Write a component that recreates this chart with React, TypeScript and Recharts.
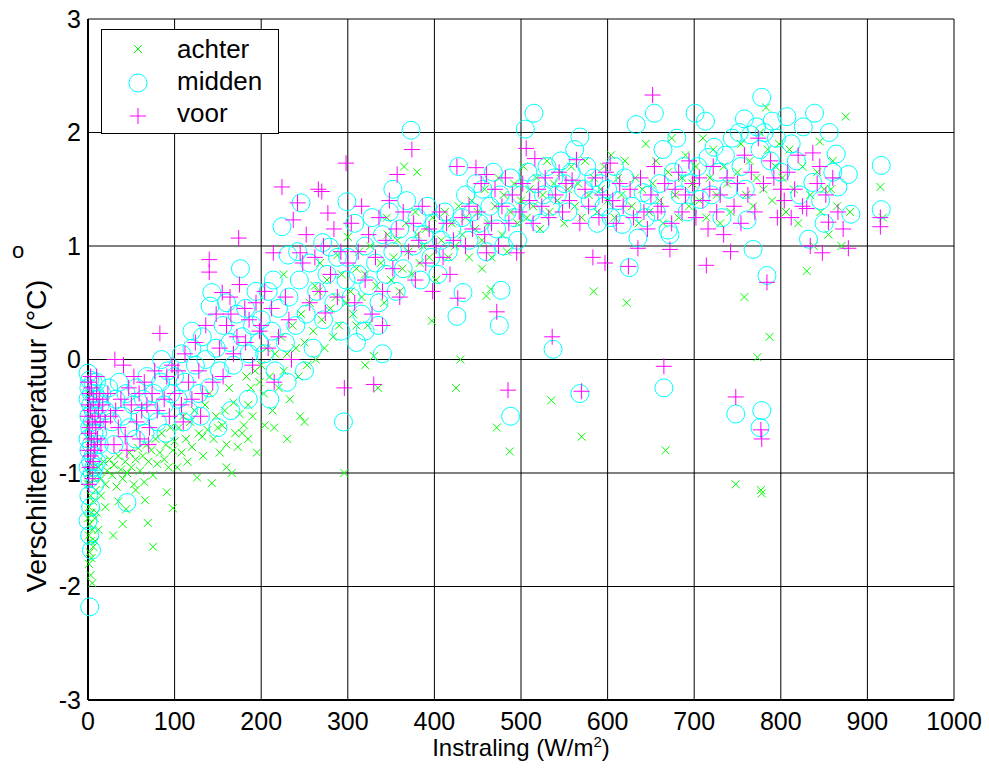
import {
  ScatterChart,
  Scatter,
  XAxis,
  YAxis,
  CartesianGrid,
  Legend,
  Label,
} from "recharts";

const xTicks = [0, 100, 200, 300, 400, 500, 600, 700, 800, 900, 1000];
const yTicks = [-3, -2, -1, 0, 1, 2, 3];

// [instraling, verschiltemperatuur]
const achter: [number, number][] = [
  [1, -1.0], [2, -1.1], [3, -1.2], [1, -1.3], [4, -1.35], [2, -1.45], [5, -1.5], [1, -1.55],
  [3, -1.6], [6, -1.65], [2, -1.7], [4, -1.75], [1, -1.8], [3, -1.9], [5, -1.97], [2, -0.8],
  [4, -0.9], [7, -1.05], [6, -1.25], [8, -1.4], [9, -1.15], [0, -0.6], [1, -0.7], [3, -0.5],
  [5, -0.4], [2, -0.3], [10, -1.35], [12, -1.5], [8, -1.6], [0, -1.1], [0, -1.4], [6, -0.95],
  [12, -0.95], [15, -1.05], [18, -0.9], [20, -1.1], [22, -0.98], [25, -0.88], [28, -1.02], [30, -0.93],
  [33, -1.12], [35, -0.85], [38, -0.97], [40, -1.05], [43, -0.9], [45, -1.0], [48, -0.82], [50, -0.95],
  [53, -1.1], [55, -0.88], [58, -0.78], [60, -0.98], [63, -0.85], [65, -1.08], [68, -0.75], [70, -0.9],
  [73, -0.8], [75, -1.02], [78, -0.7], [80, -0.92], [83, -0.82], [85, -0.65], [88, -0.88], [90, -0.75],
  [93, -0.95], [95, -0.6], [98, -0.8], [20, -1.3], [29, -1.55], [40, -1.45], [44, -1.32], [66, -1.24],
  [69, -1.44], [75, -1.65], [98, -1.31], [91, -1.17], [15, -1.2], [55, -1.15], [35, -1.25],
  [100, -0.72], [103, -0.95], [105, -0.6], [108, -0.82], [110, -0.5], [113, -0.7], [115, -0.9], [118, -0.55],
  [120, -0.77], [123, -0.45], [126, -1.04], [128, -0.65], [132, -0.68], [133, -0.85], [135, -0.4], [138, -0.62],
  [143, -1.09], [145, -0.7], [148, -0.5], [150, -0.6], [152, -0.82], [155, -0.58], [158, -0.45], [160, -0.75],
  [163, -0.25], [166, -1.0], [168, -0.38], [170, -0.65], [173, -0.77], [175, -0.48], [178, -0.65], [180, -0.58],
  [183, -0.15], [185, -0.4], [188, -0.25], [190, -0.5], [193, -0.1], [195, -0.82], [198, -0.2], [140, -0.3],
  [160, -0.95], [185, -0.7],
  [200, -0.05], [203, -0.3], [204, -0.58], [206, 0.1], [210, -0.15], [213, -0.45], [216, 0.05], [220, -0.25],
  [223, 0.2], [226, -0.1], [230, 0.05], [233, -0.35], [236, 0.3], [240, 0.1], [243, -0.15], [246, 0.4],
  [250, 0.15], [253, -0.05], [256, 0.5], [260, 0.25], [263, 0.0], [266, 0.6], [270, 0.35], [273, 0.1],
  [276, 0.7], [280, 0.45], [283, 0.2], [286, 0.55], [290, 0.3], [293, 0.75], [298, 0.5], [245, -0.5],
  [250, -0.55], [215, -0.6], [230, -0.7], [226, 0.75], [268, 0.85], [288, 0.92], [262, 0.65], [296, -1.0],
  [300, 1.08], [303, 0.6], [306, 0.4], [310, 0.8], [313, 0.95], [316, 0.55], [320, 0.75], [323, 0.3],
  [326, 1.0], [330, 0.03], [335, -0.25], [333, 0.65], [338, 0.85], [342, 0.5], [346, 1.1], [350, 0.7],
  [353, 0.9], [357, 1.05], [360, 0.6], [363, 0.8], [367, 1.2], [370, 0.95], [374, 0.75], [378, 1.3],
  [380, 1.1], [383, 0.85], [387, 1.0], [390, 1.15], [394, 0.9], [398, 1.25], [402, 0.7], [397, 0.34],
  [408, 1.05], [412, 1.3], [416, 0.9], [420, 1.2], [424, 1.0], [428, 1.35], [430, 0.0], [425, -0.25],
  [432, 1.1], [436, 1.25], [440, 0.9], [443, 1.4], [447, 1.15], [380, 1.65], [365, 1.7], [345, 1.25],
  [310, 0.3], [320, -0.05],
  [450, 1.3], [455, 1.05], [458, 1.5], [462, 1.2], [466, 0.9], [470, 1.35], [472, -0.6], [474, 1.6],
  [478, 1.1], [480, 1.45], [484, 0.95], [487, -0.81], [488, 1.3], [492, 1.55], [496, 1.2], [500, 1.4],
  [503, 1.7], [507, 1.25], [510, 1.5], [514, 1.35], [518, 1.6], [522, 1.15], [525, 1.45], [530, 1.75],
  [533, 1.3], [535, -0.36], [538, 1.55], [542, 1.4], [546, 1.65], [550, 1.2], [554, 1.5], [558, 1.7],
  [562, 1.35], [566, 1.55], [570, -0.68], [570, 1.25], [574, 1.75], [578, 1.45], [584, 0.6], [584, 1.6],
  [588, 1.3], [592, 1.5], [596, 1.7], [460, 0.56], [465, 0.62], [455, 0.8],
  [600, 1.4], [604, 1.8], [608, 1.25], [612, 1.6], [616, 1.45], [620, 1.75], [622, 0.5], [628, 1.35],
  [632, 1.6], [636, 1.2], [640, 1.5], [644, 1.9], [648, 1.3], [652, 1.55], [656, 1.75], [660, 1.4],
  [664, 1.2], [667, -0.8], [670, 1.65], [674, 1.95], [678, 1.45], [682, 1.25], [686, 1.6], [690, 1.8],
  [694, 1.35], [698, 1.55], [702, 1.7], [706, 1.4], [710, 1.95], [714, 1.25], [718, 1.6], [722, 1.85],
  [726, 1.45], [730, 1.2], [734, 1.7], [738, 1.55], [742, 1.3], [748, -1.1], [750, 1.65], [754, 1.9],
  [758, 0.55], [760, 1.45], [764, 1.75], [768, 1.35], [772, 1.6], [773, 0.02], [776, 2.0], [777, -1.15],
  [778, -1.18], [780, 1.5], [783, 2.22], [785, 1.85], [787, 0.2], [790, 1.4], [794, 1.7], [798, 1.9],
  [802, 1.6], [806, 1.3], [810, 1.85], [815, 1.5], [820, 1.2], [825, 1.7], [830, 0.78], [834, 1.45],
  [838, 1.0], [842, 1.65], [846, 1.3], [850, 1.5], [855, 1.1], [860, 1.75], [865, 1.35], [870, 1.0],
  [875, 2.14], [880, 1.3], [915, 1.52], [918, 1.25], [845, 1.92], [858, 1.5],
];

const midden: [number, number][] = [
  [0, -0.12], [2, -0.18], [1, -0.25], [4, -0.3], [0, -0.35], [3, -0.4], [6, -0.45], [1, -0.5],
  [5, -0.55], [2, -0.6], [7, -0.65], [0, -0.7], [4, -0.75], [1, -0.8], [6, -0.85], [3, -0.9],
  [0, -0.95], [5, -1.0], [2, -1.05], [8, -1.1], [1, -1.2], [3, -1.3], [0, -1.42], [2, -1.55],
  [4, -1.68], [2, -2.18], [10, -0.2], [12, -0.35], [9, -0.5], [11, -0.65], [14, -0.4], [8, -0.3],
  [10, -0.9], [13, -0.75], [6, -0.2], [7, -0.95], [45, -1.26],
  [16, -0.3], [20, -0.45], [24, -0.25], [28, -0.55], [32, -0.35], [36, -0.2], [40, -0.5], [44, -0.3],
  [48, -0.6], [52, -0.4], [56, -0.25], [60, -0.5], [64, -0.35], [68, -0.15], [72, -0.45], [76, -0.3],
  [80, -0.55], [84, -0.2], [88, -0.4], [92, -0.1], [96, -0.3], [55, -0.7], [66, -0.65], [30, -0.75],
  [90, -0.65], [85, 0.0],
  [100, -0.15], [104, -0.35], [108, 0.05], [112, -0.2], [116, -0.45], [120, 0.1], [124, -0.05], [128, -0.3],
  [132, 0.2], [136, 0.0], [140, -0.25], [141, 0.47], [143, 0.59], [148, 0.1], [152, -0.1], [156, 0.3],
  [160, 0.5], [164, 0.15], [168, -0.05], [172, 0.4], [176, 0.8], [178, 0.2], [182, 0.45], [186, 0.05],
  [190, 0.3], [194, 0.6], [198, 0.15], [110, -0.55], [130, -0.5], [150, -0.6], [165, -0.45], [185, -0.35],
  [120, 0.25],
  [200, 0.35], [204, 0.05], [208, 0.6], [212, 0.25], [214, 0.7], [216, -0.1], [220, 0.45], [224, 1.17],
  [228, 0.15], [231, 0.92], [232, 0.55], [240, 0.3], [242, 0.95], [244, 0.7], [246, 1.38], [252, 0.4],
  [256, 0.85], [260, 0.1], [264, 0.6], [271, 1.03], [272, 0.35], [276, 0.75], [279, 0.99], [284, 0.5],
  [288, 0.9], [292, 0.25], [295, -0.55], [299, 1.39], [298, 0.7], [230, -0.2], [210, -0.35], [250, -0.1],
  [300, 0.9], [304, 0.55], [308, 1.2], [312, 0.75], [316, 0.4], [320, 1.0], [324, 0.65], [328, 1.25],
  [332, 0.85], [336, 0.5], [340, 1.1], [344, 0.75], [348, 1.3], [352, 0.95], [356, 0.6], [360, 1.15],
  [364, 0.8], [368, 1.4], [373, 2.02], [376, 1.0], [380, 1.25], [384, 0.7], [388, 1.1], [392, 1.35],
  [396, 0.9], [400, 1.2], [404, 0.75], [408, 1.05], [412, 1.3], [416, 0.95], [420, 1.15], [426, 0.38],
  [433, 0.59], [428, 1.7], [432, 1.25], [436, 1.45], [440, 1.05], [444, 1.3], [448, 1.55], [352, 1.5],
  [310, 0.15], [335, 0.3], [340, 0.05], [320, 0.25],
  [452, 1.2], [456, 1.5], [460, 0.95], [464, 1.35], [477, 0.61], [475, 0.3], [468, 1.65], [472, 1.15],
  [476, 1.45], [480, 1.0], [484, 1.3], [488, -0.5], [488, 1.6], [492, 1.25], [496, 1.05], [500, 1.45],
  [505, 2.03], [508, 1.65], [512, 1.3], [515, 2.17], [518, 1.55], [522, 1.2], [526, 1.45], [530, 1.7],
  [537, 0.09], [534, 1.35], [538, 1.6], [542, 1.45], [546, 1.75], [550, 1.55], [554, 1.3], [558, 1.65],
  [562, 1.85], [568, 1.96], [568, -0.3], [572, 1.5], [576, 1.7], [580, 1.4], [584, 1.6], [588, 1.2],
  [592, 1.55], [596, 1.35],
  [600, 1.5], [604, 1.25], [608, 1.7], [612, 1.4], [617, 1.19], [620, 1.6], [625, 0.81], [628, 1.35],
  [633, 2.07], [635, 1.07], [641, 1.47], [644, 1.25], [648, 1.45], [654, 2.17], [656, 1.3], [660, 1.55],
  [665, -0.25], [664, 1.85], [670, 1.14], [672, 1.1], [676, 1.65], [680, 1.95], [684, 1.45], [688, 1.7],
  [692, 1.3], [696, 1.55], [701, 2.17], [704, 1.7], [707, 1.41], [713, 2.1], [716, 1.78], [720, 1.45],
  [723, 1.87], [728, 1.65], [732, 1.25], [736, 1.8], [740, 1.5], [744, 1.95], [748, -0.48], [752, 2.0],
  [754, 1.7], [758, 2.12], [759, 1.5], [761, 1.23], [765, 1.98], [768, 0.97], [772, 2.05], [776, 1.85],
  [778, 2.31], [778, -0.45], [776, -0.6], [781, 2.0], [784, 0.74], [788, 1.75], [790, 2.1], [795, 1.95],
  [800, 1.65], [807, 2.14], [812, 1.9], [818, 1.75], [826, 2.05], [832, 1.06], [837, 1.56], [839, 2.17],
  [846, 1.4], [850, 1.2], [856, 2.0], [864, 1.81], [866, 1.52], [878, 1.63], [881, 1.28], [916, 1.71],
  [916, 1.32], [822, 1.45], [860, 1.65],
];

const voor: [number, number][] = [
  [0, -0.2], [2, -0.3], [4, -0.25], [1, -0.4], [3, -0.45], [6, -0.35], [0, -0.5], [5, -0.55],
  [2, -0.6], [8, -0.5], [1, -0.65], [4, -0.7], [7, -0.75], [0, -0.8], [3, -0.85], [6, -0.9],
  [2, -0.95], [10, -0.3], [12, -0.45], [9, -0.6], [11, -0.7], [14, -0.55], [13, -0.35], [8, -0.8],
  [15, -0.75], [5, -1.05], [1, -1.1], [10, -0.15], [3, -0.15],
  [17, -0.4], [20, -0.55], [23, -0.3], [26, -0.5], [31, 0.0], [32, -0.45], [35, -0.6], [38, -0.35],
  [41, -0.05], [43, -0.68], [47, -0.25], [50, -0.4], [53, -0.15], [56, -0.55], [59, -0.3], [62, -0.45],
  [65, -0.2], [68, -0.4], [71, -0.6], [74, -0.3], [77, -0.1], [80, -0.45], [83, 0.23], [88, -0.35],
  [91, -0.15], [94, -0.5], [97, -0.05], [70, -0.75], [60, -0.7], [30, -0.75], [45, -0.8],
  [100, -0.3], [104, -0.1], [108, -0.4], [112, 0.05], [116, -0.2], [120, -0.35], [124, 0.15], [128, -0.1],
  [132, -0.3], [136, 0.3], [140, 0.88], [140, 0.77], [144, -0.2], [148, 0.4], [152, 0.1], [155, 0.59],
  [156, -0.15], [160, 0.3], [164, 0.55], [168, 0.05], [172, 0.2], [174, 1.07], [175, 0.66], [181, 0.45],
  [182, 0.15], [186, 0.35], [190, -0.05], [194, 0.5], [198, 0.25], [165, 0.4], [130, -0.5], [110, -0.55],
  [200, 0.3], [204, 0.6], [208, 0.1], [212, 0.45], [214, 0.94], [220, 0.2], [224, 1.52], [228, 0.55],
  [232, 0.35], [237, 1.23], [242, 1.38], [245, 0.94], [248, 0.85], [252, 1.1], [256, 0.5], [262, 0.9],
  [266, 1.5], [268, 0.6], [272, 1.0], [274, 0.41], [277, 1.29], [280, 0.75], [284, 1.15], [288, 0.55],
  [292, 0.95], [296, -0.25], [298, 1.73], [270, 1.48], [235, 0.0], [215, -0.2],
  [300, 0.85], [304, 1.2], [308, 0.5], [312, 0.95], [316, 1.35], [320, 0.7], [324, 1.1], [328, 0.4],
  [330, -0.22], [332, 0.9], [336, 1.25], [340, 0.6], [344, 1.05], [348, 1.4], [352, 0.8], [357, 1.63],
  [356, 1.15], [360, 0.55], [364, 1.3], [374, 1.85], [370, 0.95], [376, 1.2], [378, 0.7], [382, 1.05],
  [386, 1.35], [390, 0.85], [394, 1.15], [398, 0.6], [402, 1.0], [406, 1.3], [410, 0.9], [414, 1.2],
  [418, 0.75], [422, 1.05], [426, 1.7], [427, 0.54], [432, 1.25], [436, 1.0], [440, 1.35], [448, 1.69],
  [444, 1.15], [340, 0.3],
  [450, 1.3], [454, 1.55], [458, 1.1], [460, 1.63], [460, 0.94], [466, 1.2], [470, 1.5], [472, 0.42],
  [474, 1.0], [478, 1.35], [482, 1.6], [485, -0.27], [486, 1.2], [490, 1.45], [495, 0.94], [498, 1.3],
  [502, 1.55], [506, 1.86], [510, 1.4], [514, 1.2], [516, 1.77], [520, 1.5], [524, 1.35], [528, 1.6],
  [532, 1.25], [536, 0.2], [540, 1.45], [544, 1.65], [548, 1.3], [552, 1.55], [556, 1.4], [559, 1.58],
  [564, 1.76], [568, 1.2], [570, -0.28], [574, 1.5], [578, 1.35], [583, 0.9], [586, 1.6], [590, 1.25],
  [594, 1.45], [597, 0.85], [598, 1.65],
  [603, 1.73], [606, 1.4], [610, 1.2], [614, 1.55], [618, 1.35], [624, 0.82], [626, 1.5], [630, 1.25],
  [635, 0.98], [638, 1.6], [642, 1.3], [646, 1.15], [650, 1.45], [652, 2.33], [654, 1.7], [658, 1.3],
  [662, 1.35], [665, -0.06], [666, 1.55], [672, 0.97], [674, 1.2], [678, 1.5], [682, 1.65], [686, 1.3],
  [690, 1.45], [694, 1.75], [698, 1.55], [702, 1.25], [706, 1.6], [710, 1.4], [714, 0.83], [716, 1.15],
  [718, 1.5], [722, 1.7], [726, 1.3], [730, 1.45], [734, 1.1], [738, 1.6], [742, 0.95], [746, 1.35],
  [748, -0.33], [750, 1.55], [754, 1.2], [758, 1.8], [762, 1.45], [766, 1.65], [770, 1.3], [774, 1.95],
  [777, -0.62], [778, -0.7], [780, 1.55], [784, 0.68], [788, 1.75], [792, 1.6], [796, 1.25], [800, 1.5],
  [804, 1.4], [808, 1.65], [812, 1.25], [816, 1.5], [820, 1.8], [825, 1.35], [830, 1.33], [834, 1.0],
  [837, 1.82], [842, 1.55], [848, 0.94], [852, 1.45], [855, 1.21], [860, 1.6], [866, 1.3], [872, 1.15],
  [878, 0.98], [915, 1.17], [915, 1.25], [845, 1.7],
];

const toRows = (pts: [number, number][]) => pts.map(([x, y]) => ({ x, y }));

const GREEN = "#00ff00";
const CYAN = "#00ffff";
const MAGENTA = "#ff00ff";
const FONT = "Arial, 'Liberation Sans', Helvetica, sans-serif";

function XMark(p: any) {
  const { cx, cy } = p;
  if (cx == null || cy == null) return <g />;
  const s = 4;
  return (
    <path
      d={`M${cx - s},${cy - s}L${cx + s},${cy + s}M${cx - s},${cy + s}L${cx + s},${cy - s}`}
      stroke={GREEN}
      strokeWidth={1}
      fill="none"
    />
  );
}

function OMark(p: any) {
  const { cx, cy } = p;
  if (cx == null || cy == null) return <g />;
  return <circle cx={cx} cy={cy} r={9} stroke={CYAN} strokeWidth={1} fill="none" />;
}

function PlusMark(p: any) {
  const { cx, cy } = p;
  if (cx == null || cy == null) return <g />;
  const s = 8;
  return (
    <path
      d={`M${cx - s},${cy}L${cx + s},${cy}M${cx},${cy - s}L${cx},${cy + s}`}
      stroke={MAGENTA}
      strokeWidth={1}
      fill="none"
    />
  );
}

function LegendBox() {
  return (
    <svg width={178} height={105} style={{ display: "block" }}>
      <rect x={0.5} y={0.5} width={177} height={104} fill="#fff" stroke="#000" strokeWidth={1} />
      <path d="M33,16L41,24M33,24L41,16" stroke={GREEN} fill="none" />
      <circle cx={37} cy={54} r={9} stroke={CYAN} fill="none" />
      <path d="M29,87L45,87M37,79L37,95" stroke={MAGENTA} fill="none" />
      <g fontFamily={FONT} fontSize={26} fill="#000">
        <text x={76} y={29}>achter</text>
        <text x={76} y={61}>midden</text>
        <text x={76} y={93}>voor</text>
      </g>
    </svg>
  );
}

const renderXLabel = () => (
  <text x={521} y={756} textAnchor="middle" fontFamily={FONT} fontSize={24} fill="#000">
    Instraling (W/m<tspan fontSize={15} dy={-9}>2</tspan>
    <tspan dy={9}>)</tspan>
  </text>
);

const renderYLabel = () => (
  <g fontFamily={FONT} fill="#000">
    <text x={46} y={436} textAnchor="middle" fontSize={28.5} transform="rotate(-90, 46, 436)">
      Verschiltemperatuur (°C)
    </text>
    <text x={18} y={258} textAnchor="middle" fontSize={22}>
      o
    </text>
  </g>
);

export default function App() {
  return (
    <div
      style={{
        position: "absolute",
        left: 0,
        top: 0,
        width: 989,
        height: 771,
        background: "#fff",
      }}
    >
      <ScatterChart
        width={989}
        height={771}
        margin={{ top: 19, right: 35, bottom: 41, left: 28 }}
      >
        <CartesianGrid stroke="#000" strokeWidth={1} />
        <XAxis
          type="number"
          dataKey="x"
          domain={[0, 1000]}
          ticks={xTicks}
          interval={0}
          height={30}
          tickLine={false}
          tickSize={0}
          tickMargin={12}
          axisLine={{ stroke: "#000", strokeWidth: 2 }}
          tick={{ fill: "#000", fontSize: 25, fontFamily: FONT }}
        >
          <Label content={renderXLabel} />
        </XAxis>
        <YAxis
          type="number"
          dataKey="y"
          domain={[-3, 3]}
          ticks={yTicks}
          interval={0}
          width={60}
          tickLine={false}
          tickSize={0}
          tickMargin={7}
          axisLine={{ stroke: "#000", strokeWidth: 2 }}
          tick={{ fill: "#000", fontSize: 25, fontFamily: FONT }}
        >
          <Label content={renderYLabel} />
        </YAxis>
        <Legend
          layout="vertical"
          align="center"
          verticalAlign="middle"
          content={() => <LegendBox />}
          wrapperStyle={{ left: 101, top: 29, width: 178, height: 105 }}
        />
        <Scatter name="achter" data={toRows(achter)} shape={XMark} isAnimationActive={false} />
        <Scatter name="midden" data={toRows(midden)} shape={OMark} isAnimationActive={false} />
        <Scatter name="voor" data={toRows(voor)} shape={PlusMark} isAnimationActive={false} />
      </ScatterChart>
    </div>
  );
}
